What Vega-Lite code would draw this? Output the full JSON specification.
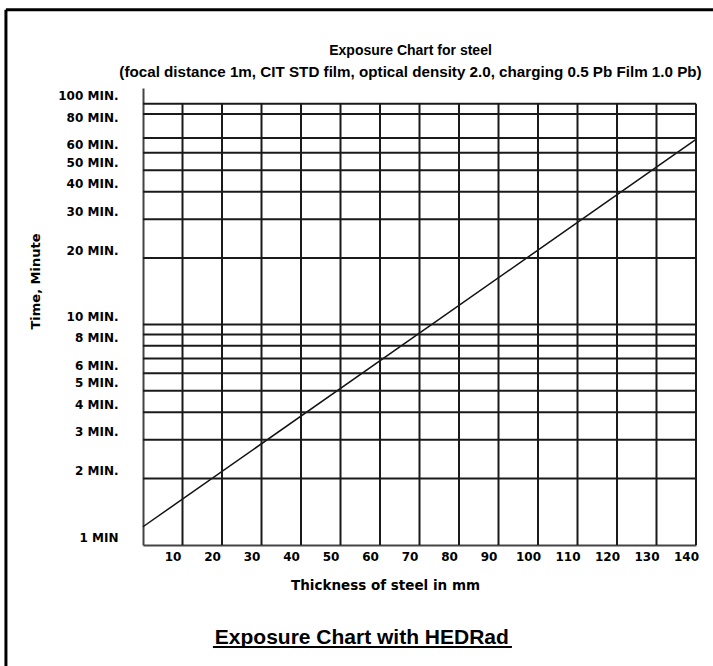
{
  "$schema": "https://vega.github.io/schema/vega-lite/v6.json",
  "width": 553,
  "height": 457,
  "autosize": {"type": "none"},
  "padding": {"left": 143, "top": 88, "right": 17, "bottom": 121},
  "background": "white",
  "config": {"view": {"stroke": null}},
  "title": {
    "text": "Exposure Chart for steel",
    "subtitle": "(focal distance 1m, CIT STD film, optical density 2.0, charging 0.5 Pb Film 1.0 Pb)",
    "anchor": "middle",
    "frame": "group",
    "font": "Liberation Sans",
    "fontSize": 14,
    "fontWeight": "bold",
    "color": "#000000",
    "subtitleFont": "Liberation Sans",
    "subtitleFontSize": 15.2,
    "subtitleFontWeight": "bold",
    "subtitleColor": "#000000",
    "subtitlePadding": 7,
    "offset": -72,
    "dx": -9
  },
  "datasets": {
    "exposure": [
      {"thickness": 0, "minutes": 1.21},
      {"thickness": 140, "minutes": 69}
    ],
    "hgrid": [
      {"minutes": 2}, {"minutes": 3}, {"minutes": 4}, {"minutes": 5}, {"minutes": 6},
      {"minutes": 7}, {"minutes": 8}, {"minutes": 9}, {"minutes": 10}, {"minutes": 20},
      {"minutes": 30}, {"minutes": 40}, {"minutes": 50}, {"minutes": 60}, {"minutes": 70},
      {"minutes": 90}, {"minutes": 100}
    ],
    "vgrid": [
      {"thickness": 10}, {"thickness": 20}, {"thickness": 30}, {"thickness": 40},
      {"thickness": 50}, {"thickness": 60}, {"thickness": 70}, {"thickness": 80},
      {"thickness": 90}, {"thickness": 100}, {"thickness": 110}, {"thickness": 120},
      {"thickness": 130}, {"thickness": 140}
    ],
    "caption": [{"label": "Exposure Chart with HEDRad"}]
  },
  "layer": [
    {
      "data": {"name": "exposure"},
      "mark": {"type": "line", "color": "#111111", "strokeWidth": 1.5},
      "encoding": {
        "x": {
          "field": "thickness", "type": "quantitative",
          "scale": {"domain": [0, 140], "nice": false, "zero": false},
          "axis": {
            "title": "Thickness of steel in mm",
            "values": [10, 20, 30, 40, 50, 60, 70, 80, 90, 100, 110, 120, 130, 140],
            "ticks": false, "grid": false,
            "domainColor": "#444444", "domainWidth": 2,
            "labelFont": "DejaVu Sans", "labelFontWeight": "bold", "labelFontSize": 12, "labelColor": "#000000",
            "labelPadding": 6, "labelOffset": -10, "labelOverlap": false, "labelBound": false, "labelFlush": false,
            "titleFont": "DejaVu Sans", "titleFontWeight": "bold", "titleFontSize": 13.5, "titleColor": "#000000",
            "titleX": 242, "titleY": 40, "titleAlign": "center", "titleBaseline": "middle"
          }
        },
        "y": {
          "field": "minutes", "type": "quantitative",
          "scale": {"type": "log", "domain": [1, 118], "nice": false},
          "axis": {
            "title": "Time, Minute",
            "values": [1, 2, 3, 4, 5, 6, 8, 10, 20, 30, 40, 50, 60, 80, 100],
            "labelExpr": "datum.value == 1 ? '1 MIN' : datum.value + ' MIN.'",
            "ticks": false, "grid": false,
            "domainColor": "#444444", "domainWidth": 2,
            "labelFont": "DejaVu Sans", "labelFontWeight": "bold", "labelFontSize": 12, "labelColor": "#000000",
            "labelPadding": 25, "labelOffset": -8, "labelOverlap": false, "labelBound": false, "labelFlush": false,
            "titleFont": "DejaVu Sans", "titleFontWeight": "bold", "titleFontSize": 13, "titleColor": "#000000",
            "titleX": -108, "titleY": 193, "titleAlign": "center", "titleBaseline": "middle", "titleAngle": -90
          }
        }
      }
    },
    {
      "data": {"name": "hgrid"},
      "mark": {"type": "rule", "color": "#1a1a1a", "strokeWidth": 2},
      "encoding": {
        "y": {"field": "minutes", "type": "quantitative", "scale": {"type": "log", "domain": [1, 118], "nice": false}},
        "x": {"datum": 0, "type": "quantitative", "scale": {"domain": [0, 140], "nice": false, "zero": false}},
        "x2": {"datum": 140}
      }
    },
    {
      "data": {"name": "vgrid"},
      "mark": {"type": "rule", "color": "#1a1a1a", "strokeWidth": 2},
      "encoding": {
        "x": {"field": "thickness", "type": "quantitative", "scale": {"domain": [0, 140], "nice": false, "zero": false}},
        "y": {"datum": 1, "type": "quantitative", "scale": {"type": "log", "domain": [1, 118], "nice": false}},
        "y2": {"datum": 100}
      }
    },
    {
      "data": {"name": "caption"},
      "mark": {"type": "text", "font": "Liberation Sans", "fontWeight": "bold", "fontSize": 21, "color": "#000000", "align": "center", "baseline": "alphabetic"},
      "encoding": {
        "text": {"field": "label", "type": "nominal"},
        "x": {"datum": 55.4, "type": "quantitative", "scale": {"domain": [0, 140], "nice": false, "zero": false}},
        "y": {"datum": 0.3556, "type": "quantitative", "scale": {"type": "log", "domain": [1, 118], "nice": false}}
      }
    },
    {
      "data": {"name": "caption"},
      "mark": {"type": "rule", "color": "#000000", "strokeWidth": 2},
      "encoding": {
        "x": {"datum": 17.7, "type": "quantitative", "scale": {"domain": [0, 140], "nice": false, "zero": false}},
        "x2": {"datum": 93.4},
        "y": {"datum": 0.3446, "type": "quantitative", "scale": {"type": "log", "domain": [1, 118], "nice": false}}
      }
    },
    {
      "data": {"name": "caption"},
      "mark": {"type": "rule", "color": "#000000", "strokeWidth": 3},
      "encoding": {
        "x": {"datum": -34.7, "type": "quantitative", "scale": {"domain": [0, 140], "nice": false, "zero": false}},
        "y": {"datum": 267, "type": "quantitative", "scale": {"type": "log", "domain": [1, 118], "nice": false}},
        "y2": {"datum": 0.28}
      }
    },
    {
      "data": {"name": "caption"},
      "mark": {"type": "rule", "color": "#000000", "strokeWidth": 3},
      "encoding": {
        "x": {"datum": -34.7, "type": "quantitative", "scale": {"domain": [0, 140], "nice": false, "zero": false}},
        "x2": {"datum": 144.3},
        "y": {"datum": 267, "type": "quantitative", "scale": {"type": "log", "domain": [1, 118], "nice": false}}
      }
    }
  ]
}
